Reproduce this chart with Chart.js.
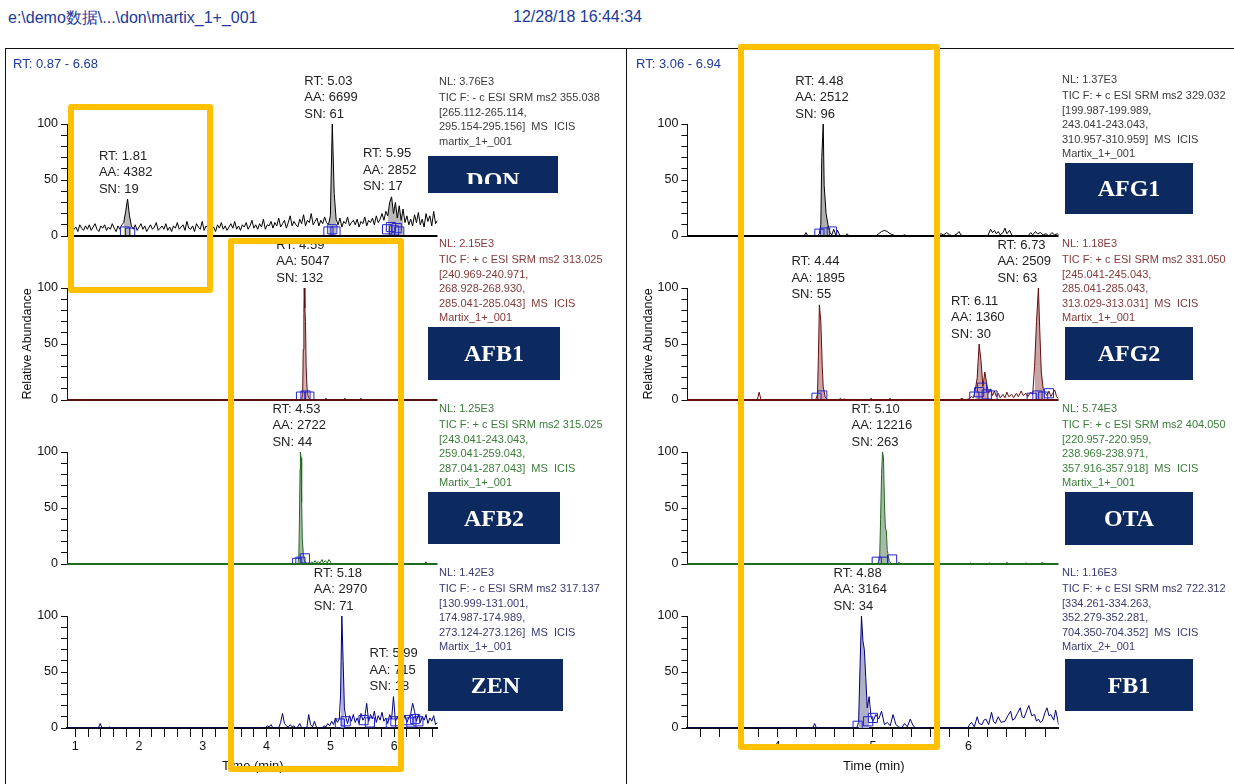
<!DOCTYPE html>
<html>
<head>
<meta charset="utf-8">
<script src="https://cdn.jsdelivr.net/npm/chart.js@4.4.1/dist/chart.umd.min.js"></script>
<style>
  html, body { margin: 0; padding: 0; background: #fff; }
  #stage { position: relative; width: 1234px; height: 784px; overflow: hidden; font-family: "Liberation Sans", Arial, sans-serif; }
  #stage canvas { position: absolute; z-index: 1; }
  .t { position: absolute; white-space: pre; z-index: 2; }
  .line { position: absolute; background: #111; z-index: 2; }
  .info { position: absolute; z-index: 2; font-size: 11px; line-height: 14.5px; white-space: pre; }
  .info div:first-child { margin-bottom: 2px; }
  .tag { position: absolute; z-index: 3; background: #0c2a60; color: #fff; font: bold 24px "Liberation Serif", "Times New Roman", serif;
         display: flex; align-items: center; justify-content: center; overflow: hidden; }
  .ybox { position: absolute; z-index: 4; border: 6.5px solid #ffc000; border-radius: 3px; box-sizing: border-box; }
  .vt { position: absolute; width: 200px; text-align: center; font-size: 12.5px; transform: rotate(-90deg); z-index: 2; color: #111; }
</style>
</head>
<body>
<div id="stage">
  <div class="t" style="left:8px;top:8px;font-size:16px;color:#1c3a9a">e:\demo数据\...\don\martix_1+_001</div>
  <div class="t" style="left:513px;top:8px;font-size:16px;color:#1c3a9a">12/28/18 16:44:34</div>
  <div class="line" style="left:5px;top:48px;width:1229px;height:1px"></div>
  <div class="line" style="left:5px;top:48px;width:1px;height:736px"></div>
  <div class="line" style="left:626px;top:48px;width:1px;height:736px"></div>
  <div class="t" style="left:13px;top:56px;font-size:13px;color:#1c3a9a">RT: 0.87 - 6.68</div>
  <div class="t" style="left:636px;top:56px;font-size:13px;color:#1c3a9a">RT: 3.06 - 6.94</div>
  <div class="vt" style="left:-73px;top:337px">Relative Abundance</div>
  <div class="vt" style="left:548px;top:337px">Relative Abundance</div>
  <div class="t" style="left:222px;top:758px;font-size:13px;color:#111">Time (min)</div>
  <div class="t" style="left:843px;top:758px;font-size:13px;color:#111">Time (min)</div>
</div>
<script>
// ---- axes ----
const leftRange = [0.87, 6.68];
const rightRange = [3.06, 6.94];
const leftTicks = [1.0, 1.2, 1.4, 1.6, 1.8, 2.0, 2.2, 2.4, 2.6, 2.8, 3.0, 3.2, 3.4, 3.6, 3.8, 4.0, 4.2, 4.4, 4.6, 4.8, 5.0, 5.2, 5.4, 5.6, 5.8, 6.0, 6.2, 6.4, 6.6];
const rightTicks = [3.2, 3.4, 3.6, 3.8, 4.0, 4.2, 4.4, 4.6, 4.8, 5.0, 5.2, 5.4, 5.6, 5.8, 6.0, 6.2, 6.4, 6.6, 6.8];
const yTicks = [0, 10, 20, 30, 40, 50, 60, 70, 80, 90, 100];

// ---- DON (scan grid) ----
const donStart = 0.89, donStep = 0.03;
const donValues = [
  9, 5, 11, 6, 8, 4, 10, 7, 5, 9,
  6, 10, 5, 8, 11, 6, 4, 9, 7, 10,
  5, 8, 6, 11, 7, 4, 9, 6, 10, 12,
  22, 33, 18, 9, 6, 10, 5, 8, 11, 6,
  9, 4, 7, 10, 6, 8, 12, 5, 7, 9,
  6, 11, 5, 8, 4, 9, 7, 12, 6, 8,
  10, 5, 13, 7, 6, 9, 4, 11, 8, 6,
  13, 5, 9, 7, 11, 6, 8, 4, 10, 7,
  12, 6, 9, 5, 8, 11, 7, 13, 6, 9,
  5, 10, 8, 12, 6, 9, 14, 7, 10, 6,
  11, 8, 15, 6, 10, 9, 13, 7, 12, 9,
  16, 8, 11, 14, 7, 12, 18, 9, 13, 10,
  8, 15, 11, 19, 9, 14, 12, 20, 10, 13,
  16, 9, 14, 11, 17, 12, 10, 18, 100, 38,
  15, 10, 16, 8, 13, 11, 17, 9, 12, 14,
  10, 15, 8, 13, 11, 17, 9, 14, 12, 16,
  10, 18, 12, 15, 20, 14, 22, 18, 30, 35,
  20, 30, 16, 27, 14, 24, 12, 18, 10, 15,
  9, 19, 12, 21, 10, 15, 8, 20, 13, 18,
  9, 22, 11, 14
];
const donPeaks = [[1.81, 4382, 19, 1.75, 1.885], [5.03, 6699, 61, 4.965, 5.115], [5.95, 2852, 17, 5.89, 6.15]];
const donMarks = [[1.78, 4], [1.86, 3], [4.97, 4], [5.03, 6], [5.08, 4], [5.89, 6], [5.95, 8], [6.00, 5], [6.04, 7], [6.08, 4]];
const donInfo = ['NL: 3.76E3', 'TIC F: - c ESI SRM ms2 355.038', '[265.112-265.114,', '295.154-295.156]  MS  ICIS', 'martix_1+_001'];

// ---- AFB1 ----
const afb1Trace = [[0.87, 0], [4.55, 0], [4.565, 5], [4.575, 45], [4.585, 78], [4.59, 100], [4.60, 82], [4.61, 70], [4.62, 30], [4.635, 10], [4.65, 4], [4.67, 1], [4.69, 0],
  [4.90, 0], [4.93, 1.5], [4.96, 0], [5.20, 0], [5.23, 1.5], [5.26, 0], [5.45, 0], [5.48, 1.5], [5.51, 0], [6.68, 0]];
const afb1Peaks = [[4.59, 5047, 132, 4.56, 4.65]];
const afb1Marks = [[4.54, 3], [4.61, 4], [4.67, 3]];
const afb1Info = ['NL: 2.15E3', 'TIC F: + c ESI SRM ms2 313.025', '[240.969-240.971,', '268.928-268.930,', '285.041-285.043]  MS  ICIS', 'Martix_1+_001'];

// ---- AFB2 ----
const afb2Trace = [[0.87, 0], [4.49, 0], [4.505, 6], [4.515, 40], [4.525, 85], [4.53, 100], [4.54, 95], [4.55, 55], [4.56, 22], [4.575, 10], [4.59, 4], [4.61, 1], [4.63, 0],
  [4.68, 0], [4.71, 2], [4.73, 0], [4.76, 3], [4.78, 1], [4.81, 2], [4.84, 1], [4.87, 4], [4.89, 1], [4.92, 3], [4.95, 1], [4.98, 4], [5.01, 1], [5.03, 0],
  [6.48, 0], [6.50, 2], [6.52, 0], [6.68, 0]];
const afb2Peaks = [[4.53, 2722, 44, 4.50, 4.60]];
const afb2Marks = [[4.48, 1], [4.53, 2], [4.60, 5]];
const afb2Info = ['NL: 1.25E3', 'TIC F: + c ESI SRM ms2 315.025', '[243.041-243.043,', '259.041-259.043,', '287.041-287.043]  MS  ICIS', 'Martix_1+_001'];

// ---- ZEN ----
const zenTrace = [[0.87, 0], [1.36, 0], [1.39, 4], [1.42, 0], [1.52, 0], [1.54, 1], [1.56, 0], [3.98, 0], [4.01, 2], [4.04, 1], [4.07, 3], [4.10, 0], [4.19, 0], [4.22, 5], [4.25, 13],
  [4.28, 4], [4.31, 2], [4.34, 1], [4.37, 3], [4.40, 1], [4.43, 2], [4.46, 0], [4.49, 1], [4.52, 4], [4.55, 0], [4.63, 0], [4.66, 12], [4.69, 3], [4.72, 1], [4.75, 6],
  [4.78, 1], [4.81, 0], [4.87, 0], [4.90, 2], [4.93, 1], [4.96, 4], [4.99, 2], [5.02, 6], [5.05, 3], [5.08, 9], [5.11, 5], [5.14, 8], [5.16, 30], [5.18, 100], [5.20, 60],
  [5.22, 18], [5.24, 10], [5.27, 4], [5.30, 11], [5.33, 6], [5.36, 12], [5.39, 5], [5.42, 9], [5.45, 4], [5.48, 13], [5.51, 7], [5.54, 10], [5.57, 22], [5.60, 6],
  [5.63, 12], [5.66, 8], [5.69, 15], [5.72, 5], [5.75, 11], [5.78, 7], [5.81, 14], [5.84, 6], [5.87, 9], [5.90, 4], [5.93, 12], [5.96, 8], [5.99, 28], [6.02, 6],
  [6.05, 10], [6.08, 5], [6.11, 14], [6.14, 7], [6.17, 11], [6.20, 5], [6.23, 9], [6.26, 13], [6.29, 22], [6.32, 15], [6.35, 6], [6.38, 12], [6.41, 5], [6.44, 10],
  [6.47, 7], [6.50, 12], [6.53, 4], [6.56, 9], [6.59, 6], [6.62, 11], [6.65, 3], [6.68, 5]];
const zenPeaks = [[5.18, 2970, 71, 5.15, 5.235], [5.99, 715, 18, 5.965, 6.015]];
const zenMarks = [[5.15, 4], [5.24, 6], [5.52, 7], [5.62, 5], [5.95, 4], [6.02, 6], [6.22, 7], [6.27, 5], [6.33, 8], [6.38, 6]];
const zenInfo = ['NL: 1.42E3', 'TIC F: - c ESI SRM ms2 317.137', '[130.999-131.001,', '174.987-174.989,', '273.124-273.126]  MS  ICIS', 'Martix_1+_001'];

// ---- AFG1 ----
const afg1Trace = [[3.06, 0], [4.28, 0], [4.30, 3], [4.32, 0], [4.42, 0], [4.44, 2], [4.455, 10], [4.465, 70], [4.48, 100], [4.49, 45], [4.51, 20], [4.53, 10], [4.55, 3],
  [4.57, 1], [4.59, 6], [4.61, 1], [4.63, 5], [4.65, 1], [4.67, 0], [4.71, 0], [4.73, 2], [4.75, 0], [5.03, 0], [5.06, 2], [5.09, 4], [5.12, 5], [5.15, 4], [5.18, 2],
  [5.21, 1], [5.24, 0], [5.30, 0], [5.33, 1], [5.36, 0], [5.68, 0], [5.71, 2], [5.74, 1], [5.77, 3], [5.80, 1], [5.84, 0], [5.88, 2], [5.90, 4], [5.92, 1], [5.94, 0],
  [6.20, 0], [6.23, 6], [6.25, 3], [6.27, 5], [6.29, 2], [6.31, 4], [6.33, 1], [6.36, 3], [6.38, 7], [6.40, 2], [6.43, 5], [6.45, 1], [6.47, 0], [6.62, 0], [6.65, 3],
  [6.67, 1], [6.70, 4], [6.72, 2], [6.75, 3], [6.78, 1], [6.81, 2], [6.84, 0], [6.87, 3], [6.90, 1], [6.93, 2], [6.94, 1]];
const afg1Peaks = [[4.48, 2512, 96, 4.445, 4.555]];
const afg1Marks = [[4.44, 2], [4.50, 3], [4.57, 4]];
const afg1Info = ['NL: 1.37E3', 'TIC F: + c ESI SRM ms2 329.032', '[199.987-199.989,', '243.041-243.043,', '310.957-310.959]  MS  ICIS', 'Martix_1+_001'];

// ---- AFG2 ----
const afg2Trace = [[3.06, 0], [3.79, 0], [3.81, 7], [3.83, 0], [4.40, 0], [4.42, 5], [4.43, 40], [4.44, 85], [4.455, 70], [4.47, 30], [4.48, 12], [4.50, 3], [4.52, 0],
  [4.64, 0], [4.66, 1.5], [4.68, 0], [4.70, 1], [4.72, 0], [4.96, 0], [4.98, 1.5], [5.00, 0], [5.16, 0], [5.18, 1.5], [5.20, 0], [5.90, 0], [5.93, 1.5], [5.96, 0],
  [6.00, 1], [6.03, 3], [6.05, 2], [6.07, 9], [6.09, 20], [6.11, 50], [6.13, 35], [6.15, 12], [6.17, 25], [6.19, 14], [6.21, 6], [6.23, 10], [6.25, 4], [6.27, 8],
  [6.29, 3], [6.31, 6], [6.33, 2], [6.36, 5], [6.38, 2], [6.40, 7], [6.42, 3], [6.45, 5], [6.47, 2], [6.50, 6], [6.52, 3], [6.55, 8], [6.57, 4], [6.60, 6], [6.62, 3],
  [6.65, 7], [6.67, 5], [6.69, 30], [6.71, 70], [6.73, 100], [6.745, 60], [6.76, 25], [6.78, 10], [6.80, 6], [6.82, 4], [6.84, 8], [6.86, 3], [6.88, 6], [6.90, 9],
  [6.92, 3], [6.94, 1]];
const afg2Peaks = [[4.44, 1895, 55, 4.415, 4.50], [6.11, 1360, 30, 6.06, 6.22], [6.73, 2509, 63, 6.68, 6.80]];
const afg2Marks = [[4.41, 2], [4.47, 4], [6.06, 3], [6.11, 7], [6.14, 11], [6.19, 5], [6.25, 4], [6.66, 2], [6.72, 4], [6.78, 3], [6.84, 6]];
const afg2Info = ['NL: 1.18E3', 'TIC F: + c ESI SRM ms2 331.050', '[245.041-245.043,', '285.041-285.043,', '313.029-313.031]  MS  ICIS', 'Martix_1+_001'];

// ---- OTA ----
const otaTrace = [[3.06, 0], [5.05, 0], [5.07, 5], [5.08, 40], [5.09, 80], [5.10, 100], [5.11, 95], [5.12, 55], [5.13, 32], [5.14, 30], [5.15, 12], [5.17, 3], [5.19, 0],
  [5.25, 0], [5.27, 1.5], [5.29, 0], [6.00, 0], [6.02, 1], [6.04, 0], [6.20, 0], [6.22, 1], [6.24, 0], [6.38, 0], [6.40, 1.5], [6.42, 0], [6.58, 0], [6.60, 1],
  [6.62, 0], [6.75, 0], [6.77, 1.5], [6.79, 0], [6.94, 0]];
const otaPeaks = [[5.10, 12216, 263, 5.065, 5.16]];
const otaMarks = [[5.04, 2], [5.11, 2], [5.20, 4]];
const otaInfo = ['NL: 5.74E3', 'TIC F: + c ESI SRM ms2 404.050', '[220.957-220.959,', '238.969-238.971,', '357.916-357.918]  MS  ICIS', 'Martix_1+_001'];

// ---- FB1 ----
const fb1Trace = [[3.06, 0], [4.37, 0], [4.39, 4], [4.41, 0], [4.83, 0], [4.85, 5], [4.865, 55], [4.88, 100], [4.895, 78], [4.91, 70], [4.925, 45], [4.94, 18], [4.96, 28],
  [4.98, 10], [5.00, 6], [5.03, 12], [5.06, 8], [5.09, 15], [5.12, 3], [5.15, 5], [5.18, 2], [5.21, 12], [5.24, 3], [5.27, 1], [5.30, 0], [5.33, 4], [5.36, 1],
  [5.39, 8], [5.42, 2], [5.45, 0], [5.99, 0], [6.01, 3], [6.03, 5], [6.06, 1], [6.09, 10], [6.11, 4], [6.14, 3], [6.16, 7], [6.18, 8], [6.21, 3], [6.24, 14],
  [6.26, 6], [6.28, 4], [6.31, 10], [6.34, 5], [6.38, 6], [6.41, 11], [6.44, 15], [6.46, 7], [6.48, 8], [6.51, 13], [6.54, 18], [6.56, 10], [6.58, 9], [6.61, 16],
  [6.63, 20], [6.66, 11], [6.69, 12], [6.71, 6], [6.73, 8], [6.75, 5], [6.77, 6], [6.80, 14], [6.82, 18], [6.84, 11], [6.86, 12], [6.89, 7], [6.91, 16], [6.93, 8], [6.94, 3]];
const fb1Peaks = [[4.88, 3164, 34, 4.845, 4.97]];
const fb1Marks = [[4.84, 2], [4.95, 6], [5.00, 9]];
const fb1Info = ['NL: 1.16E3', 'TIC F: + c ESI SRM ms2 722.312', '[334.261-334.263,', '352.279-352.281,', '704.350-704.352]  MS  ICIS', 'Martix_2+_001'];

// ---- layout (pixels) ----
const TOP100 = [124, 288, 452, 616];
const PLOT_H = 112;
const PAD_TOP = 60;
const SIDE = {
  L: { left: 0, width: 445, axisX: 67, right: 438.8, infoX: 439 },
  R: { left: 627, width: 439, axisX: 687.4, right: 1060.2, infoX: 1062 }
};
const INFO_Y = [[81, 243, 408, 572], [79, 243, 408, 572]];
const TAGS = {
  DON: [428, 156, 130, 37], AFB1: [428, 327, 132, 53], AFB2: [428, 492, 132, 52], ZEN: [428, 659, 135, 52],
  AFG1: [1065, 163, 128, 51], AFG2: [1065, 327, 128, 53], OTA: [1065, 492, 128, 53], FB1: [1065, 659, 128, 52]
};
const labelShift = { '5.99': -24, '6.73': -41, '5.10': -31 };

const stage = document.getElementById('stage');
Chart.defaults.font.family = '"Liberation Sans", Arial, sans-serif';
Chart.defaults.color = '#111';

const pts = arr => arr.map(([x, y]) => ({ x, y }));

function addPanel(p) {
  const s = SIDE[p.side];
  const bottom = p.row === 3;
  const h = PAD_TOP + PLOT_H + (bottom ? 36 : 12);
  const cv = document.createElement('canvas');
  cv.width = s.width;
  cv.height = h;
  cv.style.left = s.left + 'px';
  cv.style.top = (TOP100[p.row] - PAD_TOP) + 'px';
  stage.appendChild(cv);

  const range = p.side === 'L' ? leftRange : rightRange;
  const xt = p.side === 'L' ? leftTicks : rightTicks;
  const inWin = (from, to) => p.points.filter(q => q.x >= from && q.x <= to);

  const fills = p.peaks.map(pk => ({
    data: inWin(pk[3], pk[4]), borderWidth: 0, pointRadius: 0, fill: 'origin', backgroundColor: p.fillColor
  }));

  const labels = {
    id: 'peakLabels' + p.name,
    afterDatasetsDraw(chart) {
      const { ctx, chartArea: a, scales: { x, y } } = chart;
      ctx.save();
      if (!bottom) {
        ctx.strokeStyle = p.color;
        ctx.lineWidth = 2;
        ctx.beginPath();
        ctx.moveTo(a.left, a.bottom);
        ctx.lineTo(a.right, a.bottom);
        ctx.stroke();
      }
      ctx.font = '13px "Liberation Sans", Arial, sans-serif';
      ctx.fillStyle = '#222';
      ctx.textBaseline = 'middle';
      p.peaks.forEach(([rt, aa, sn, from, to]) => {
        const apex = Math.max(...inWin(from, to).map(q => q.y));
        const key = rt.toFixed(2);
        const px = x.getPixelForValue(rt) + (labelShift[key] ?? -28);
        const py = y.getPixelForValue(apex) - 10;
        ctx.fillText('RT: ' + key, px, py - 33);
        ctx.fillText('AA: ' + aa, px, py - 16.5);
        ctx.fillText('SN: ' + sn, px, py);
      });
      ctx.restore();
    }
  };

  new Chart(cv, {
    type: 'line',
    data: {
      datasets: [
        { data: pts(p.marks), showLine: false, pointStyle: 'rect', pointRadius: 6.5, pointBorderWidth: 1,
          pointBorderColor: '#2222d0', pointBackgroundColor: 'rgba(0,0,0,0)' },
        { data: p.points, borderColor: p.color, borderWidth: 1, pointRadius: 0, fill: false, tension: 0 },
        ...fills
      ]
    },
    options: {
      responsive: false,
      animation: false,
      events: [],
      layout: { padding: { top: PAD_TOP, left: 0, right: s.left + s.width - s.right, bottom: bottom ? 0 : 12 } },
      plugins: { legend: { display: false }, tooltip: { enabled: false } },
      scales: {
        x: {
          type: 'linear', min: range[0], max: range[1], display: bottom,
          afterBuildTicks: sc => { sc.ticks = xt.map(v => ({ value: v })); },
          afterFit: sc => { sc.height = bottom ? 36 : 0; },
          ticks: { autoSkip: false, maxRotation: 0, padding: 2, color: '#111', font: { size: 12.5 },
                   callback: v => Number.isInteger(v) ? String(v) : '' },
          grid: { drawOnChartArea: false, drawTicks: true, tickLength: 9, color: '#111' },
          border: { display: true, color: '#111', width: 2 }
        },
        y: {
          min: 0, max: 100,
          afterBuildTicks: sc => { sc.ticks = yTicks.map(v => ({ value: v })); },
          afterFit: sc => { sc.width = s.axisX - s.left; },
          ticks: { autoSkip: false, padding: 3, color: '#111', font: { size: 12.5 },
                   callback: v => v % 50 === 0 ? String(v) : '' },
          grid: { drawOnChartArea: false, drawTicks: true, tickLength: 6, color: '#111' },
          border: { display: true, color: '#111', width: 1 }
        }
      }
    },
    plugins: [labels]
  });

  // info text and compound tag
  const info = document.createElement('div');
  info.className = 'info';
  info.style.left = s.infoX + 'px';
  info.style.top = (INFO_Y[p.side === 'L' ? 0 : 1][p.row] - 7.25) + 'px';
  info.style.color = p.infoColor;
  p.info.forEach(line => { const d = document.createElement('div'); d.textContent = line; info.appendChild(d); });
  stage.appendChild(info);

  const [tx, ty, tw, th] = TAGS[p.name];
  const tag = document.createElement('div');
  tag.className = 'tag';
  tag.style.cssText = `left:${tx}px;top:${ty}px;width:${tw}px;height:${th}px`;
  if (p.name === 'DON') {
    // label text is cut off in the original
    tag.style.display = 'block';
    tag.innerHTML = '<div style="position:absolute;left:0;top:0;width:100%;height:28px;overflow:hidden">' +
      '<div style="position:absolute;left:0;top:12px;width:100%;text-align:center;line-height:24px">DON</div></div>';
  } else {
    tag.textContent = p.name;
  }
  stage.appendChild(tag);
}

const donPoints = donValues.map((v, i) => ({ x: donStart + i * donStep, y: v }));

[
  { name: 'DON', side: 'L', row: 0, points: donPoints, color: '#000000', fillColor: '#b9b9b9', peaks: donPeaks, marks: donMarks, info: donInfo, infoColor: '#3a3a3a' },
  { name: 'AFB1', side: 'L', row: 1, points: pts(afb1Trace), color: '#5a0f0f', fillColor: '#d9b3b3', peaks: afb1Peaks, marks: afb1Marks, info: afb1Info, infoColor: '#843a3a' },
  { name: 'AFB2', side: 'L', row: 2, points: pts(afb2Trace), color: '#1f6b1f', fillColor: '#a9b9a9', peaks: afb2Peaks, marks: afb2Marks, info: afb2Info, infoColor: '#3a7d3a' },
  { name: 'ZEN', side: 'L', row: 3, points: pts(zenTrace), color: '#00007a', fillColor: '#b3b3e6', peaks: zenPeaks, marks: zenMarks, info: zenInfo, infoColor: '#3a3a72' },
  { name: 'AFG1', side: 'R', row: 0, points: pts(afg1Trace), color: '#000000', fillColor: '#b0b0b0', peaks: afg1Peaks, marks: afg1Marks, info: afg1Info, infoColor: '#3a3a3a' },
  { name: 'AFG2', side: 'R', row: 1, points: pts(afg2Trace), color: '#6a0d0d', fillColor: '#c9a5a5', peaks: afg2Peaks, marks: afg2Marks, info: afg2Info, infoColor: '#843a3a' },
  { name: 'OTA', side: 'R', row: 2, points: pts(otaTrace), color: '#1f6b1f', fillColor: '#a9b9a9', peaks: otaPeaks, marks: otaMarks, info: otaInfo, infoColor: '#3a7d3a' },
  { name: 'FB1', side: 'R', row: 3, points: pts(fb1Trace), color: '#00007a', fillColor: '#b0b0c8', peaks: fb1Peaks, marks: fb1Marks, info: fb1Info, infoColor: '#3a3a72' }
].forEach(addPanel);

// highlight frames
[[68, 104, 145, 189], [228, 238, 176, 534], [738, 44, 202, 706]].forEach(([l, t, w, h]) => {
  const b = document.createElement('div');
  b.className = 'ybox';
  b.style.cssText = `left:${l}px;top:${t}px;width:${w}px;height:${h}px`;
  stage.appendChild(b);
});
</script>
</body>
</html>
